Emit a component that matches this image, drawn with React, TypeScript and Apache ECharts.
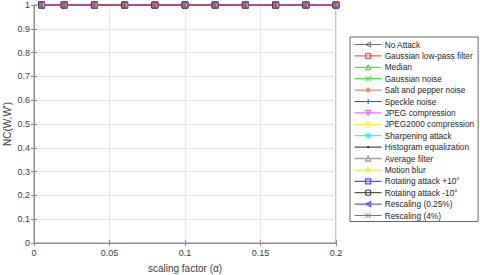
import React, { useEffect, useRef } from "react";
import * as echarts from "echarts";

const xValues = [0.005, 0.02, 0.04, 0.06, 0.08, 0.1, 0.12, 0.14, 0.16, 0.18, 0.2];
const yTicks = [0, 0.1, 0.2, 0.3, 0.4, 0.5, 0.6, 0.7, 0.8, 0.9, 1];

const noAttack = [1, 1, 1, 1, 1, 1, 1, 1, 1, 1, 1];
const gaussianLowPass = [1, 1, 1, 1, 1, 1, 1, 1, 1, 1, 1];
const median = [1, 1, 1, 1, 1, 1, 1, 1, 1, 1, 1];
const gaussianNoise = [1, 1, 1, 1, 1, 1, 1, 1, 1, 1, 1];
const saltPepper = [1, 1, 1, 1, 1, 1, 1, 1, 1, 1, 1];
const speckle = [1, 1, 1, 1, 1, 1, 1, 1, 1, 1, 1];
const jpeg = [1, 1, 1, 1, 1, 1, 1, 1, 1, 1, 1];
const jpeg2000 = [1, 1, 1, 1, 1, 1, 1, 1, 1, 1, 1];
const sharpening = [1, 1, 1, 1, 1, 1, 1, 1, 1, 1, 1];
const histEq = [1, 1, 1, 1, 1, 1, 1, 1, 1, 1, 1];
const averageFilter = [1, 1, 1, 1, 1, 1, 1, 1, 1, 1, 1];
const motionBlur = [1, 1, 1, 1, 1, 1, 1, 1, 1, 1, 1];
const rotPlus10 = [1, 1, 1, 1, 1, 1, 1, 1, 1, 1, 1];
const rotMinus10 = [1, 1, 1, 1, 1, 1, 1, 1, 1, 1, 1];
const rescale025 = [1, 1, 1, 1, 1, 1, 1, 1, 1, 1, 1];
const rescale4 = [1, 1, 1, 1, 1, 1, 1, 1, 1, 1, 1];

const CIRCLE12 =
  "M10,5L9.33,7.5L7.5,9.33L5,10L2.5,9.33L0.67,7.5L0,5L0.67,2.5L2.5,0.67L5,0L7.5,0.67L9.33,2.5Z";
const DOT12 =
  "M6.5,5L6.3,5.75L5.75,6.3L5,6.5L4.25,6.3L3.7,5.75L3.5,5L3.7,4.25L4.25,3.7L5,3.5L5.75,3.7L6.3,4.25Z";

// marker outlines on a 10x10 box
const MARKERS: Record<string, string> = {
  left: "M10,0L0,5L10,10Z",
  square: "M0,0L10,0L10,10L0,10Z",
  up: "M5,0L10,10L0,10Z",
  down: "M0,0L10,0L5,10Z",
  x: "M0,0L10,10M0,10L10,0",
  plus: "M5,0L5,10M0,5L10,5",
  ast: "M5,0L5,10M0,5L10,5M1.5,1.5L8.5,8.5M1.5,8.5L8.5,1.5",
  circle: CIRCLE12,
  dot: "M5,0M5,10" + DOT12,
  star5: "M5,0L6.18,3.38L9.76,3.45L6.9,5.62L7.94,9.05L5,7L2.06,9.05L3.1,5.62L0.24,3.45L3.82,3.38Z",
  star6: "M5,0L6.44,2.5L9.33,2.5L7.89,5L9.33,7.5L6.44,7.5L5,10L3.56,7.5L0.67,7.5L2.11,5L0.67,2.5L3.56,2.5Z",
};

// build a legend icon: horizontal line 27 wide with marker (size m) in the middle, box 27 x m
function legendIcon(marker: string, m: number): string {
  const cx = 13.5 - m / 2;
  const scaled = marker.replace(/(-?[0-9.]+),(-?[0-9.]+)/g, (_s, a, b) => {
    return `${(cx + (parseFloat(a) * m) / 10).toFixed(2)},${((parseFloat(b) * m) / 10).toFixed(2)}`;
  });
  return `path://M0,${m / 2}L27,${m / 2}` + scaled;
}

type S = { name: string; data: number[]; color: string; marker: string; width?: number; filled?: boolean };

const seriesDefs: S[] = [
  { name: "No Attack", data: noAttack, color: "#707070", marker: "left" },
  { name: "Gaussian low-pass filter", data: gaussianLowPass, color: "#ff3030", marker: "square" },
  { name: "Median", data: median, color: "#20e020", marker: "up" },
  { name: "Gaussian noise", data: gaussianNoise, color: "#20e020", marker: "x" },
  { name: "Salt and pepper noise", data: saltPepper, color: "#f08080", marker: "ast", width: 2 },
  { name: "Speckle noise", data: speckle, color: "#4040ff", marker: "plus" },
  { name: "JPEG compression", data: jpeg, color: "#ff40ff", marker: "down" },
  { name: "JPEG2000 compression", data: jpeg2000, color: "#f0f000", marker: "circle" },
  { name: "Sharpening attack", data: sharpening, color: "#40f0f0", marker: "star6", width: 2 },
  { name: "Histogram equalization", data: histEq, color: "#202020", marker: "dot", filled: true },
  { name: "Average filter", data: averageFilter, color: "#a0a0a0", marker: "up", width: 2 },
  { name: "Motion blur", data: motionBlur, color: "#f0f000", marker: "star5" },
  { name: "Rotating attack +10°", data: rotPlus10, color: "#5050ff", marker: "square", width: 1.5 },
  { name: "Rotating attack -10°", data: rotMinus10, color: "#303030", marker: "square" },
  { name: "Rescaling (0.25%)", data: rescale025, color: "#6060ff", marker: "left", width: 1.5 },
  { name: "Rescaling (4%)", data: rescale4, color: "#ff4040", marker: "x" },
];

const FONT = "Liberation Sans, Arial, sans-serif";
const AXIS_COLOR = "#8c8c8c";
const TEXT_COLOR = "#3c3c3c";

export default function App() {
  const ref = useRef<HTMLDivElement>(null);
  useEffect(() => {
    if (!ref.current) return;
    const chart = echarts.init(ref.current, null, { renderer: "svg" });
    const series = seriesDefs.map((s) => ({
      type: "line",
      name: s.name,
      data: xValues.map((x, i) => [x, s.data[i]]),
      symbol: "path://" + (s.marker === "dot" ? DOT12 : MARKERS[s.marker]),
      symbolSize: s.marker === "dot" ? 2.5 : 6,
      showAllSymbol: true,
      clip: false,
      lineStyle: { color: s.color, width: s.width || 1 },
      itemStyle: s.filled
        ? { color: s.color, borderColor: s.color, borderWidth: 1 }
        : { color: "rgba(255,255,255,0)", borderColor: s.color, borderWidth: 1 },
      emphasis: { disabled: true },
    }));
    const M = 5;
    chart.setOption({
      animation: false,
      textStyle: { fontFamily: FONT },
      grid: {
        left: 34,
        right: 144,
        top: 5,
        bottom: 32,
        show: true,
        borderColor: AXIS_COLOR,
        borderWidth: 1,
        containLabel: false,
        outerBoundsMode: "none",
      },
      legend: {
        orient: "vertical",
        left: 350,
        top: 37,
        padding: [3.5, 4, 2, 4],
        itemGap: 3.4,
        itemWidth: 27,
        itemHeight: M,
        backgroundColor: "#ffffff",
        borderColor: "#666666",
        borderWidth: 1,
        borderRadius: 0,
        textStyle: { fontSize: 8.3, color: "#262626", fontFamily: FONT, padding: [0, 0, 0, -2] },
        data: seriesDefs.map((s) => ({
          name: s.name,
          icon: legendIcon(MARKERS[s.marker], M),
          itemStyle: s.filled
            ? { color: s.color, borderColor: s.color, borderWidth: 1 }
            : { color: "rgba(255,255,255,0)", borderColor: s.color, borderWidth: s.width ? 1.3 : 1 },
        })),
      },
      xAxis: [
        {
          type: "value",
          min: 0,
          max: 0.2,
          interval: 0.05,
          name: "scaling factor (α)",
          nameLocation: "middle",
          nameGap: 20,
          nameMoveOverlap: false,
          nameTextStyle: { fontSize: 10, color: TEXT_COLOR, fontFamily: FONT },
          axisLine: { show: true, lineStyle: { color: AXIS_COLOR } },
          axisTick: { show: true, inside: true, length: 3, lineStyle: { color: AXIS_COLOR } },
          axisLabel: { fontSize: 9, color: TEXT_COLOR, margin: 5 },
          splitLine: { show: true, lineStyle: { color: "#e8e8e8" } },
        },
        {
          type: "value",
          position: "top",
          min: 0,
          max: 0.2,
          interval: 0.05,
          axisLine: { show: true, lineStyle: { color: AXIS_COLOR } },
          axisTick: { show: true, inside: true, length: 3, lineStyle: { color: AXIS_COLOR } },
          axisLabel: { show: false },
          splitLine: { show: false },
        },
      ],
      yAxis: [
        {
          type: "value",
          min: 0,
          max: 1,
          interval: 0.1,
          name: "NC(W,W')",
          nameLocation: "middle",
          nameGap: 22,
          nameMoveOverlap: false,
          nameTextStyle: { fontSize: 10, color: TEXT_COLOR, fontFamily: FONT },
          axisLine: { show: true, lineStyle: { color: AXIS_COLOR } },
          axisTick: { show: true, inside: true, length: 3, lineStyle: { color: AXIS_COLOR } },
          axisLabel: { fontSize: 9, color: TEXT_COLOR, margin: 4 },
          splitLine: { show: true, lineStyle: { color: "#e8e8e8" } },
        },
        {
          type: "value",
          position: "right",
          min: 0,
          max: 1,
          interval: 0.1,
          axisLine: { show: true, lineStyle: { color: AXIS_COLOR } },
          axisTick: { show: true, inside: true, length: 3, lineStyle: { color: AXIS_COLOR } },
          axisLabel: { show: false },
          splitLine: { show: false },
        },
      ],
      series,
    });
    return () => chart.dispose();
  }, []);
  return <div ref={ref} style={{ width: 480, height: 275, position: "absolute", left: 0, top: 0 }} />;
}
